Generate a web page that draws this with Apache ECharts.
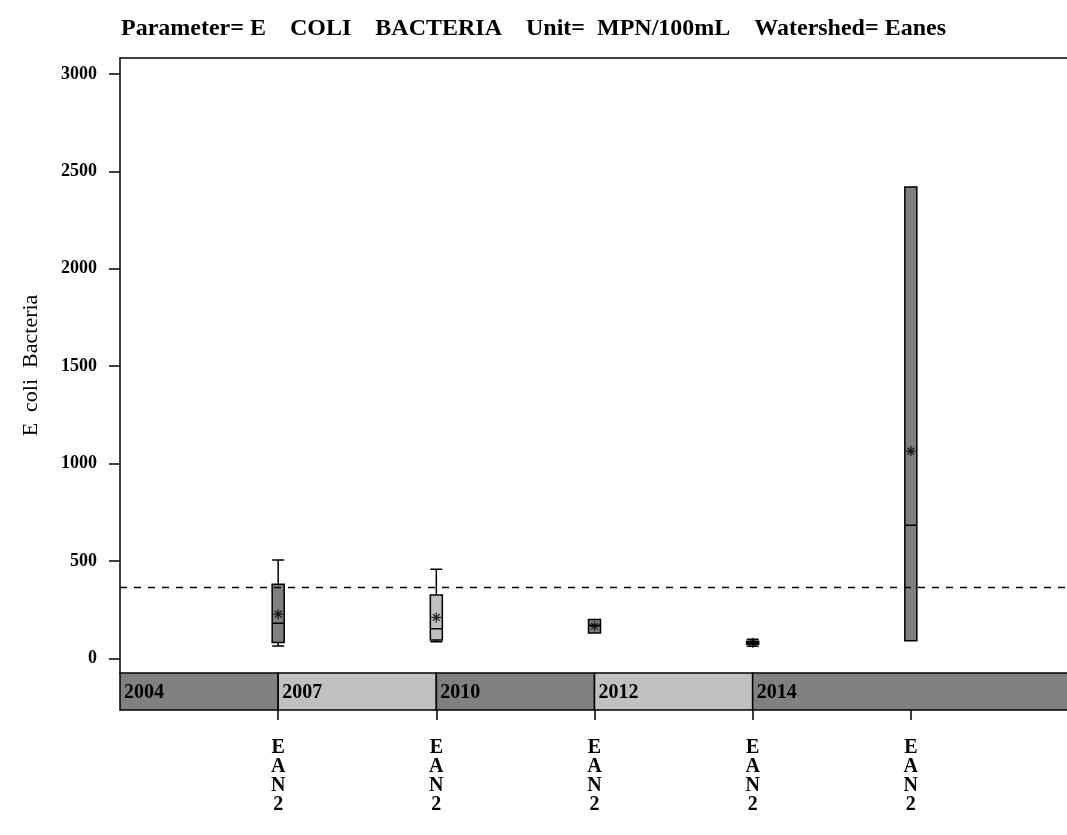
<!DOCTYPE html>
<html>
<head>
<meta charset="utf-8">
<script src="https://cdn.jsdelivr.net/npm/echarts@6/dist/echarts.min.js"></script>
<style>
  html, body { margin: 0; padding: 0; background: #fff; }
  #main { width: 1067px; height: 835px; }
</style>
</head>
<body>
<div id="main"></div>
<script>
// sites along the x scale (0..6)
var sitePos = [1, 2, 3, 4, 5];
var siteLabels = ['EAN2', 'EAN2', 'EAN2', 'EAN2', 'EAN2'];
// box statistics per site
var boxMin = [63, 85, 130, 62, 90];
var boxQ1 = [82, 94, 130, 72, 90];
var boxMedian = [180, 152, 170, 80, 683];
var boxQ3 = [380, 325, 200, 88, 2420];
var boxMax = [505, 457, 200, 98, 2420];
var boxMean = [227, 210, 165, 80, 1064];
var standardLine = 367;
var yTicks = [0, 500, 1000, 1500, 2000, 2500, 3000];
// year band under the plot
var yearLabels = ['2004', '2007', '2010', '2012', '2014'];
var yearStart = [0, 1, 2, 3, 4];
var yearEnd = [1, 2, 3, 4, 6];

var serif = "'Liberation Serif', 'DejaVu Serif', serif";
var dark = '#808080', light = '#c0c0c0';

var chart = echarts.init(document.getElementById('main'));

var boxData = sitePos.map(function (x, i) {
  return {
    value: [x, boxMin[i], boxQ1[i], boxMedian[i], boxQ3[i], boxMax[i]],
    itemStyle: { color: i % 2 === 0 ? dark : light }
  };
});
var meanData = sitePos.map(function (x, i) { return [x, boxMean[i]]; });
var yearData = yearStart.map(function (s, i) { return [s, yearEnd[i]]; });

function renderYear(params, api) {
  var p0 = api.coord([api.value(0), 1]);
  var p1 = api.coord([api.value(1), 0]);
  var fill = params.dataIndex % 2 === 0 ? dark : light;
  return {
    type: 'group',
    children: [
      {
        type: 'rect',
        shape: { x: p0[0], y: p0[1], width: p1[0] - p0[0], height: p1[1] - p0[1] },
        style: { fill: fill, stroke: '#000', lineWidth: 1.5 }
      },
      {
        type: 'text',
        x: p0[0] + 4,
        y: (p0[1] + p1[1]) / 2 + 1,
        style: {
          text: yearLabels[params.dataIndex],
          font: 'bold 20px ' + serif,
          fill: '#000',
          verticalAlign: 'middle'
        }
      }
    ]
  };
}

chart.setOption({
  animation: false,
  backgroundColor: '#fff',
  title: {
    text: 'Parameter= E    COLI    BACTERIA    Unit=  MPN/100mL    Watershed= Eanes',
    left: 'center',
    top: 12,
    textStyle: { fontFamily: serif, fontWeight: 'bold', fontSize: 24, color: '#000' }
  },
  grid: [
    { left: 120, right: -2, top: 58, height: 615, outerBoundsMode: 'none' },
    { left: 120, right: -2, top: 673, height: 37, outerBoundsMode: 'none' }
  ],
  xAxis: [
    {
      type: 'value', gridIndex: 0, min: 0, max: 6, position: 'top',
      axisLine: { show: true, onZero: false, lineStyle: { color: '#000', width: 1.5 } },
      axisTick: { show: false },
      axisLabel: { show: false },
      splitLine: { show: false }
    },
    {
      type: 'value', gridIndex: 1, min: 0, max: 6, position: 'bottom',
      axisLine: { show: false, onZero: false },
      axisTick: {
        show: true, length: 10, customValues: sitePos,
        lineStyle: { color: '#000', width: 1.5 }
      },
      axisLabel: {
        customValues: sitePos,
        margin: 28,
        fontFamily: serif, fontWeight: 'bold', fontSize: 20, lineHeight: 19,
        color: '#000',
        formatter: function (v) {
          var idx = sitePos.indexOf(v);
          return idx < 0 ? '' : siteLabels[idx].split('').join('\n');
        }
      },
      splitLine: { show: false }
    }
  ],
  yAxis: [
    {
      type: 'value', gridIndex: 0, min: -75, max: 3082,
      name: 'E  coli  Bacteria',
      nameLocation: 'middle',
      nameGap: 78,
      nameTextStyle: { fontFamily: serif, fontSize: 22, color: '#000' },
      axisLine: { show: true, onZero: false, lineStyle: { color: '#000', width: 1.5 } },
      axisTick: {
        show: true, length: 11, customValues: yTicks,
        lineStyle: { color: '#000', width: 1.5 }
      },
      axisLabel: {
        customValues: yTicks,
        margin: 23,
        fontFamily: serif, fontWeight: 'bold', fontSize: 18, color: '#000',
        formatter: function (v) { return String(v); }
      },
      splitLine: { show: false }
    },
    {
      type: 'value', gridIndex: 1, min: 0, max: 1, show: false
    }
  ],
  series: [
    {
      type: 'boxplot',
      xAxisIndex: 0, yAxisIndex: 0,
      boxWidth: [12, 12],
      itemStyle: { borderColor: '#000', borderWidth: 1.5 },
      data: boxData
    },
    {
      type: 'scatter',
      xAxisIndex: 0, yAxisIndex: 0,
      symbol: 'path://M5,0L5,10M0,5L10,5M1.6,1.6L8.4,8.4M8.4,1.6L1.6,8.4',
      symbolSize: 10,
      itemStyle: { color: 'rgba(0,0,0,0)', borderColor: '#000', borderWidth: 1.3 },
      data: meanData,
      markLine: {
        silent: true,
        symbol: ['none', 'none'],
        label: { show: false },
        lineStyle: { color: '#000', type: [7, 7], width: 1.3 },
        data: [{ yAxis: standardLine }]
      },
      z: 5
    },
    {
      type: 'custom',
      xAxisIndex: 1, yAxisIndex: 1,
      renderItem: renderYear,
      data: yearData,
      clip: false
    }
  ]
});
</script>
</body>
</html>
